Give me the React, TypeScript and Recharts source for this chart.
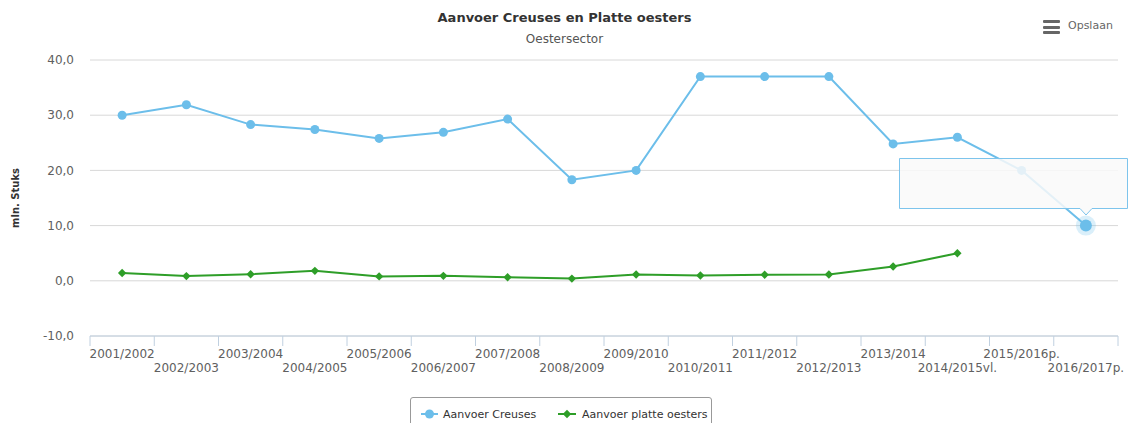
import React from "react";
import { LineChart, Line, XAxis, YAxis, CartesianGrid, Tooltip } from "recharts";

const seasons = [
  "2001/2002", "2002/2003", "2003/2004", "2004/2005", "2005/2006", "2006/2007",
  "2007/2008", "2008/2009", "2009/2010", "2010/2011", "2011/2012", "2012/2013",
  "2013/2014", "2014/2015vl.", "2015/2016p.", "2016/2017p.",
];
const creuses = [30.0, 31.9, 28.3, 27.4, 25.8, 26.9, 29.3, 18.3, 20.0, 37.0, 37.0, 37.0, 24.8, 26.0, 20.0, 10.0];
const platte = [1.4, 0.85, 1.2, 1.8, 0.8, 0.9, 0.65, 0.4, 1.15, 0.95, 1.1, 1.15, 2.6, 5.0, null, null];
const yTicks = [-10, 0, 10, 20, 30, 40];

const BLUE = "#6CBEEA";
const GREEN = "#2E9E28";
const FONT = "'DejaVu Sans', Verdana, sans-serif";

const data = seasons.map((s, i) => ({ season: s, creuses: creuses[i], platte: platte[i] }));

const fmt = (v: number) => v.toFixed(1).replace(".", ",");

const SeasonTick = (props: any) => {
  const { x, y, payload, index } = props;
  const off = payload.offset || 0;
  const last = index === seasons.length - 1;
  return (
    <g>
      <line x1={x - off} x2={x - off} y1={y} y2={y + 10} stroke="#C0D0E0" />
      {last && <line x1={x + off} x2={x + off} y1={y} y2={y + 10} stroke="#C0D0E0" />}
      <text
        x={x}
        y={y + (index % 2 === 0 ? 22 : 36)}
        textAnchor="middle"
        fontSize={12}
        fontFamily={FONT}
        fill="#606060"
      >
        {payload.value}
      </text>
    </g>
  );
};

const Diamond = (props: any) => {
  const { cx, cy, index } = props;
  if (cx == null || cy == null || props.value == null) return <g key={index} />;
  const r = 4.2;
  return (
    <path
      key={index}
      d={`M${cx},${cy - r}L${cx + r},${cy}L${cx},${cy + r}L${cx - r},${cy}Z`}
      fill={GREEN}
    />
  );
};

const HoverDot = (props: any) => {
  const { cx, cy } = props;
  return (
    <g>
      <circle cx={cx} cy={cy} r={10} fill={BLUE} fillOpacity={0.25} />
      <circle cx={cx} cy={cy} r={6} fill={BLUE} />
    </g>
  );
};

const EmptyTip = () => (
  <svg width={232} height={60} style={{ display: "block" }}>
    <path
      d="M0.5,0.5 H228.5 V50.5 H193 L187,57 L181,50.5 H0.5 Z"
      fill="rgba(249,249,249,0.85)"
      stroke="#7DC4EC"
    />
  </svg>
);

export default function App() {
  return (
    <div style={{ position: "absolute", left: 0, top: 0, width: 1129, height: 423, fontFamily: FONT }}>
      <div style={{ position: "absolute", top: 10, left: 0, width: 1129, textAlign: "center", fontSize: 13, fontWeight: "bold", color: "#333" }}>
        Aanvoer Creuses en Platte oesters
      </div>
      <div style={{ position: "absolute", top: 32, left: 0, width: 1129, textAlign: "center", fontSize: 12, color: "#555" }}>
        Oestersector
      </div>
      <div style={{ position: "absolute", top: 20, left: 1043, width: 17 }}>
        {[0, 1, 2].map((k) => (
          <div key={k} style={{ height: 3, background: "#666", borderRadius: 1, marginBottom: 2.5 }} />
        ))}
      </div>
      <div style={{ position: "absolute", top: 19, left: 1068, fontSize: 11, color: "#666" }}>Opslaan</div>

      <LineChart
        width={1129}
        height={423}
        data={data}
        margin={{ top: 60, right: 11, bottom: 37, left: 0 }}
      >
        <CartesianGrid horizontal vertical={false} stroke="#D8D8D8" />
        <XAxis
          dataKey="season"
          scale="band"
          interval={0}
          height={50}
          tickLine={false}
          tickSize={0}
          tickMargin={0}
          axisLine={{ stroke: "#C0D0E0" }}
          tick={<SeasonTick />}
        />
        <YAxis
          width={90}
          domain={[-10, 40]}
          ticks={yTicks}
          tickFormatter={fmt}
          axisLine={false}
          tickLine={false}
          tickSize={0}
          tickMargin={16}
          tick={{ fontSize: 12, fill: "#606060", fontFamily: FONT }}
          label={{
            content: ({ viewBox }: any) => (
              <text
                transform={`translate(19,${viewBox.y + viewBox.height / 2}) rotate(-90)`}
                textAnchor="middle"
                fontSize={10}
                fontWeight="bold"
                fontFamily={FONT}
                fill="#333"
              >
                mln. Stuks
              </text>
            ),
          }}
        />
        <Tooltip
          active
          defaultIndex={15}
          cursor={false}
          isAnimationActive={false}
          position={{ x: 899, y: 158 }}
          content={<EmptyTip />}
          wrapperStyle={{ outline: "none" }}
        />
        <Line
          dataKey="creuses"
          name="Aanvoer Creuses"
          stroke={BLUE}
          strokeWidth={2}
          dot={{ r: 4.5, fill: BLUE, stroke: BLUE, strokeWidth: 0 }}
          activeDot={<HoverDot />}
          isAnimationActive={false}
        />
        <Line
          dataKey="platte"
          name="Aanvoer platte oesters"
          stroke={GREEN}
          strokeWidth={2}
          dot={<Diamond />}
          activeDot={false}
          isAnimationActive={false}
        />
      </LineChart>

      <div
        style={{
          position: "absolute",
          left: 410,
          top: 397,
          width: 302,
          height: 30,
          border: "1px solid #999",
          borderRadius: 3,
          boxSizing: "border-box",
          fontSize: 11,
          color: "#333",
        }}
      >
        <svg width={300} height={28} style={{ position: "absolute", left: 0, top: 0 }}>
          <line x1={10} x2={27} y1={16} y2={16} stroke={BLUE} strokeWidth={2} />
          <circle cx={18.5} cy={16} r={4.5} fill={BLUE} />
          <text x={32} y={20} fontSize={11} fontFamily={FONT} fill="#333">Aanvoer Creuses</text>
          <line x1={147} x2={165} y1={16} y2={16} stroke={GREEN} strokeWidth={2} />
          <path d="M156,11.8L160.2,16L156,20.2L151.8,16Z" fill={GREEN} />
          <text x={171} y={20} fontSize={11} fontFamily={FONT} fill="#333">Aanvoer platte oesters</text>
        </svg>
      </div>
    </div>
  );
}
